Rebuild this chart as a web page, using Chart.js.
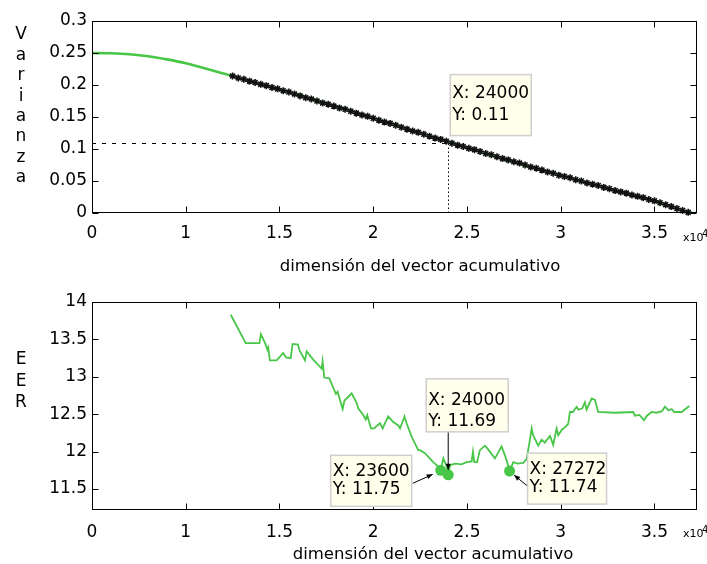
<!DOCTYPE html>
<html><head><meta charset="utf-8">
<script src="https://cdn.jsdelivr.net/npm/chart.js@4.4.1/dist/chart.umd.min.js"></script>
<style>
html,body{margin:0;padding:0;background:#fff;overflow:hidden}
#wrap{position:relative;width:707px;height:564px;background:#fff}
canvas{position:absolute;left:0}
</style></head><body>
<div id="wrap">
<canvas id="c1" width="707" height="280" style="top:0"></canvas>
<canvas id="c2" width="707" height="284" style="top:280px"></canvas>
</div>
<script>
// ---------- data ----------
const xTickValues = [5000, 10000, 15000, 20000, 25000, 30000, 35000];
const xTickLabels = ['0', '1', '1.5', '2', '2.5', '3', '3.5'];
const xMin = 5000, xMax = 37270;
const varTicks = [0, 0.05, 0.1, 0.15, 0.2, 0.25, 0.3];
const eerTicks = [11.5, 12, 12.5, 13, 13.5, 14];

const varX = [5000,6000,7000,8000,9000,10000,11000,12000,12500,13000,14000,15000,16000,17000,18000,19000,20000,21000,22000,23000,24000,25000,26000,27000,28000,29000,30000,31000,32000,33000,34000,35000,36000,36900,37270];
const varY = [0.250,0.2495,0.248,0.245,0.240,0.234,0.226,0.218,0.214,0.209,0.201,0.193,0.185,0.176,0.167,0.158,0.148,0.139,0.129,0.120,0.111,0.102,0.093,0.084,0.075,0.067,0.059,0.050,0.042,0.034,0.026,0.019,0.009,0.000,0.000];

const markX = [12500,12800,13100,13400,13700,14000,14300,14600,14900,15200,15500,15800,16100,16400,16700,17000,17300,17600,17900,18200,18500,18800,19100,19400,19700,20000,20300,20600,20900,21200,21500,21800,22100,22400,22700,23000,23300,23600,23900,24200,24500,24800,25100,25400,25700,26000,26300,26600,26900,27200,27500,27800,28100,28400,28700,29000,29300,29600,29900,30200,30500,30800,31100,31400,31700,32000,32300,32600,32900,33200,33500,33800,34100,34400,34700,35000,35300,35600,35900,36200,36500,36800];
const markY = [0.214,0.211,0.209,0.206,0.204,0.201,0.199,0.196,0.194,0.191,0.189,0.186,0.183,0.180,0.178,0.175,0.172,0.170,0.167,0.164,0.162,0.159,0.156,0.153,0.151,0.148,0.145,0.142,0.140,0.137,0.134,0.131,0.128,0.126,0.123,0.120,0.117,0.115,0.112,0.109,0.106,0.104,0.101,0.099,0.096,0.093,0.091,0.088,0.085,0.083,0.080,0.078,0.075,0.072,0.070,0.067,0.064,0.062,0.059,0.057,0.055,0.052,0.050,0.047,0.045,0.043,0.040,0.038,0.035,0.033,0.031,0.028,0.026,0.024,0.021,0.019,0.016,0.013,0.010,0.007,0.004,0.001];

const eerX = [12400,13200,13930,14010,14230,14360,14400,14490,14850,15200,15350,15600,15700,15990,16060,16360,16450,16800,17250,17300,17390,17660,18010,18100,18370,18460,18850,19120,19200,19470,19600,19680,19880,20040,20360,20500,20800,21050,21340,21430,21670,21780,22050,22400,22500,22760,23200,23380,23600,23740,23920,24000,24100,24360,24700,24980,25250,25320,25390,25540,25690,25960,26100,26490,26850,27110,27272,27470,27700,28000,28180,28360,28450,28530,28800,28980,29150,29430,29600,29780,29870,30050,30200,30400,30490,30650,30850,30950,31150,31290,31380,31650,31830,32000,32890,33870,33960,34200,34440,34600,34850,35100,35400,35560,35750,35920,36050,36450,36860];
const eerY = [13.83,13.45,13.45,13.57,13.45,13.36,13.39,13.22,13.22,13.32,13.26,13.25,13.44,13.43,13.36,13.22,13.34,13.23,13.11,13.21,12.99,12.98,12.77,12.80,12.57,12.68,12.78,12.65,12.58,12.49,12.43,12.49,12.31,12.31,12.38,12.31,12.47,12.40,12.35,12.31,12.47,12.38,12.20,12.02,12.02,11.98,11.86,11.82,11.75,11.91,11.80,11.69,11.82,11.84,11.83,11.86,11.87,12.00,11.86,11.86,12.02,12.08,12.04,11.91,12.07,11.89,11.74,11.86,11.84,11.85,11.90,12.16,12.31,12.22,12.08,12.16,12.12,12.21,12.09,12.31,12.22,12.29,12.32,12.37,12.53,12.53,12.60,12.56,12.58,12.66,12.56,12.71,12.69,12.53,12.52,12.53,12.48,12.49,12.42,12.48,12.53,12.52,12.54,12.60,12.55,12.57,12.53,12.53,12.61];

const varTipX = [24000];
const varTipY = [0.11];
const eerTipX = [23600, 24000, 27272];
const eerTipY = [11.75, 11.69, 11.74];

const xTitle = 'dimensión del vector acumulativo';
const yTitleTop = 'Varianza';
const yTitleBottom = 'EER';

// ---------- styling ----------
const FONT = "'DejaVu Sans', sans-serif";
const GREEN = 'rgb(72,198,72)';
const zip = (xs, ys) => xs.map((x, i) => ({x: x, y: ys[i]}));

function drawFrame(chart, yTicks) {
  const {ctx, chartArea: a, scales} = chart;
  ctx.save();
  ctx.strokeStyle = '#000';
  ctx.lineWidth = 1;
  const L = Math.round(a.left) + 0.5, R = Math.round(a.right) - 0.5;
  const T = Math.round(a.top) + 0.5, B = Math.round(a.bottom) - 0.5;
  ctx.strokeRect(L, T, R - L, B - T);
  ctx.beginPath();
  xTickValues.forEach(v => {
    const p = Math.round(scales.x.getPixelForValue(v)) + 0.5;
    ctx.moveTo(p, B); ctx.lineTo(p, B - 6);
    ctx.moveTo(p, T); ctx.lineTo(p, T + 6);
  });
  yTicks.forEach(v => {
    const p = Math.round(scales.y.getPixelForValue(v)) + 0.5;
    ctx.moveTo(L, p); ctx.lineTo(L + 6, p);
    ctx.moveTo(R, p); ctx.lineTo(R - 6, p);
  });
  ctx.stroke();
  ctx.restore();
}

function drawStackTitle(ctx, text, x, y0, step) {
  ctx.save();
  ctx.fillStyle = '#000';
  ctx.font = '17px ' + FONT;
  ctx.textAlign = 'center';
  ctx.textBaseline = 'middle';
  Array.from(text).forEach((ch, i) => ctx.fillText(ch, x, y0 + i * step));
  ctx.restore();
}

function drawXTitle(ctx, x, y) {
  ctx.save();
  ctx.fillStyle = '#000';
  ctx.font = '16.5px ' + FONT;
  ctx.textAlign = 'center';
  ctx.textBaseline = 'middle';
  ctx.fillText(xTitle, x, y);
  ctx.restore();
}

function drawExp(ctx, a, dy) {
  ctx.save();
  ctx.fillStyle = '#000';
  ctx.textAlign = 'left';
  ctx.textBaseline = 'middle';
  ctx.font = '11px ' + FONT;
  ctx.fillText('x10', a.right - 14, a.bottom + dy);
  ctx.font = '10px ' + FONT;
  ctx.fillText('4', a.right + 5, a.bottom + dy - 4);
  ctx.restore();
}

function drawTip(ctx, bx, by, w, h, lines, ly) {
  ctx.save();
  ctx.fillStyle = '#ffffec';
  ctx.fillRect(bx, by, w, h);
  ctx.strokeStyle = '#cfcfcf';
  ctx.lineWidth = 1.5;
  ctx.strokeRect(bx, by, w, h);
  ctx.fillStyle = '#000';
  ctx.font = '17px ' + FONT;
  ctx.textAlign = 'left';
  ctx.textBaseline = 'middle';
  ctx.fillText(lines[0], bx + 2, by + ly[0]);
  ctx.fillText(lines[1], bx + 2, by + ly[1]);
  ctx.restore();
}

function drawArrow(ctx, x1, y1, x2, y2) {
  ctx.save();
  ctx.strokeStyle = '#000';
  ctx.fillStyle = '#000';
  ctx.lineWidth = 1;
  ctx.beginPath(); ctx.moveTo(x1, y1); ctx.lineTo(x2, y2); ctx.stroke();
  const ang = Math.atan2(y2 - y1, x2 - x1), hl = 6, hw = 2.5;
  ctx.beginPath();
  ctx.moveTo(x2, y2);
  ctx.lineTo(x2 - hl * Math.cos(ang) + hw * Math.sin(ang), y2 - hl * Math.sin(ang) - hw * Math.cos(ang));
  ctx.lineTo(x2 - hl * Math.cos(ang) - hw * Math.sin(ang), y2 - hl * Math.sin(ang) + hw * Math.cos(ang));
  ctx.closePath(); ctx.fill();
  ctx.restore();
}

function xScale(height, tickPad) {
  return {
    type: 'linear', min: xMin, max: xMax,
    afterBuildTicks: s => { s.ticks = xTickValues.map(v => ({value: v})); },
    afterFit: s => { s.height = height; },
    grid: {display: false, drawTicks: false},
    border: {display: false},
    ticks: {
      autoSkip: false, maxRotation: 0, padding: tickPad, color: '#000',
      font: {family: FONT, size: 17},
      callback: v => xTickLabels[xTickValues.indexOf(v)]
    },
    title: {display: false}
  };
}

function yScale(min, max, ticks) {
  return {
    type: 'linear', min: min, max: max,
    afterBuildTicks: s => { s.ticks = ticks.map(v => ({value: v})); },
    afterFit: s => { s.width = 92; },
    grid: {display: false, drawTicks: false},
    border: {display: false},
    ticks: {padding: 5, color: '#000', font: {family: FONT, size: 17},
      callback: v => String(v)}
  };
}

const common = {
  responsive: false, animation: false, devicePixelRatio: 1,
  plugins: {legend: {display: false}, tooltip: {enabled: false}}
};

// ---------- top chart ----------
new Chart(document.getElementById('c1'), {
  type: 'scatter',
  data: {datasets: [
    {data: zip(markX, markY), showLine: false, pointStyle: 'star', pointRadius: 3.5,
     borderColor: '#111', backgroundColor: '#111', pointBorderWidth: 1.6, clip: false},
    {data: zip(varX, varY), showLine: true, borderColor: GREEN, borderWidth: 2.6,
     pointRadius: 0, cubicInterpolationMode: 'monotone'}
  ]},
  options: Object.assign({}, common, {
    layout: {padding: {left: 0, right: 10, top: 21, bottom: 0}},
    scales: {x: xScale(67, 10), y: yScale(0, 0.3, varTicks)}
  }),
  plugins: [{
    id: 'topDecor',
    beforeDatasetsDraw(chart) {
      const {ctx, chartArea: a, scales} = chart;
      const px = scales.x.getPixelForValue(varTipX[0]);
      const py = scales.y.getPixelForValue(varTipY[0]);
      ctx.save();
      ctx.strokeStyle = '#000'; ctx.lineWidth = 1;
      ctx.setLineDash([4, 6]);
      ctx.beginPath(); ctx.moveTo(a.left, Math.round(py) + 0.5); ctx.lineTo(px, Math.round(py) + 0.5); ctx.stroke();
      ctx.setLineDash([1.5, 2.5]);
      ctx.beginPath(); ctx.moveTo(Math.round(px) + 0.5, a.bottom); ctx.lineTo(Math.round(px) + 0.5, py); ctx.stroke();
      ctx.restore();
    },
    afterDraw(chart) {
      const {ctx, chartArea: a, scales} = chart;
      drawFrame(chart, varTicks);
      drawStackTitle(ctx, yTitleTop, 21, 35, 20.4);
      drawXTitle(ctx, a.left + 328, a.bottom + 54);
      drawExp(ctx, a, 25);
      const px = scales.x.getPixelForValue(varTipX[0]);
      const py = scales.y.getPixelForValue(varTipY[0]);
      drawTip(ctx, px + 2, py - 68, 81, 61,
        ['X: ' + varTipX[0], 'Y: ' + varTipY[0].toFixed(2)], [19, 41]);
    }
  }]
});

// ---------- bottom chart ----------
new Chart(document.getElementById('c2'), {
  type: 'scatter',
  data: {datasets: [
    {data: zip(eerTipX, eerTipY), showLine: false, pointStyle: 'circle', pointRadius: 5.5,
     backgroundColor: GREEN, borderColor: GREEN, pointBorderWidth: 0},
    {data: zip(eerX, eerY), showLine: true, borderColor: GREEN, borderWidth: 1.8,
     pointRadius: 0, tension: 0}
  ]},
  options: Object.assign({}, common, {
    layout: {padding: {left: 0, right: 10, top: 22, bottom: 0}},
    scales: {x: xScale(54, 12), y: yScale(11.22, 14, eerTicks)}
  }),
  plugins: [{
    id: 'bottomDecor',
    afterDraw(chart) {
      const {ctx, chartArea: a, scales} = chart;
      drawFrame(chart, eerTicks);
      drawStackTitle(ctx, yTitleBottom, 21, 80, 21.5);
      drawXTitle(ctx, a.left + 341, a.bottom + 45);
      drawExp(ctx, a, 24);
      const P = eerTipX.map((x, i) => [scales.x.getPixelForValue(x), scales.y.getPixelForValue(eerTipY[i])]);
      const lab = i => ['X: ' + eerTipX[i], 'Y: ' + eerTipY[i].toFixed(2)];
      // 23600
      let [px, py] = P[0];
      let bx = px - 110, by = py - 15;
      drawArrow(ctx, bx + 82, by + 28, px - 8, py + 4);
      drawTip(ctx, bx, by, 81, 51, lab(0), [16.5, 34]);
      // 24000
      [px, py] = P[1];
      bx = px - 22; by = py - 96;
      drawArrow(ctx, px, by + 53, px, py - 5);
      drawTip(ctx, bx, by, 82, 53, lab(1), [21.5, 42.5]);
      // 27272
      [px, py] = P[2];
      bx = px + 18; by = py - 18;
      drawArrow(ctx, bx, by + 33, px + 4.5, py + 4);
      drawTip(ctx, bx, by, 79, 51, lab(2), [16.5, 34.7]);
    }
  }]
});
</script>
</body></html>
